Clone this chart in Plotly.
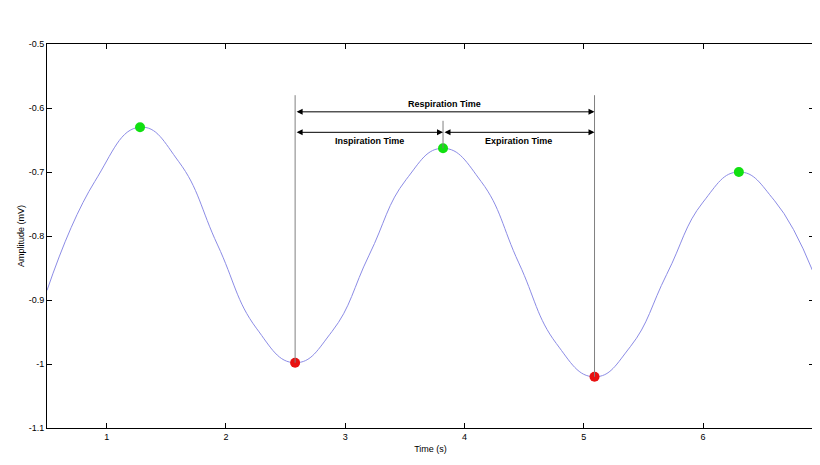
import plotly.graph_objects as go

# signal
t = [0.5, 0.9, 1.28, 1.605, 1.93, 2.255, 2.58, 2.89, 3.2, 3.51, 3.82,
     4.14, 4.455, 4.77, 5.09, 5.39, 5.695, 6.0, 6.3, 6.6, 6.92]
amp = [-0.885, -0.715, -0.63, -0.684, -0.814, -0.944, -0.998, -0.949, -0.83, -0.712, -0.663,
       -0.715, -0.842, -0.968, -1.02, -0.973, -0.86, -0.747, -0.70, -0.745, -0.855]

peak_t = [1.28, 3.82, 6.3]
peak_amp = [-0.63, -0.663, -0.70]
trough_t = [2.58, 5.09]
trough_amp = [-0.998, -1.02]

x_ticks = [1, 2, 3, 4, 5, 6]
y_ticks = [-0.5, -0.6, -0.7, -0.8, -0.9, -1.0, -1.1]
y_labels = ["-0.5", "-0.6", "-0.7", "-0.8", "-0.9", "-1", "-1.1"]

font = dict(family="Liberation Sans, Arial", size=9, color="black")

fig = go.Figure()
fig.add_trace(go.Scatter(x=t, y=amp, mode="lines",
                         line=dict(color="#8c8ce6", width=1, shape="spline", smoothing=1.3)))

# vertical guide lines
guide = dict(color="#808080", width=1)
fig.add_shape(type="line", x0=trough_t[0], x1=trough_t[0], y0=trough_amp[0], y1=-0.58, line=guide)
fig.add_shape(type="line", x0=trough_t[1], x1=trough_t[1], y0=trough_amp[1], y1=-0.58, line=guide)
fig.add_shape(type="line", x0=peak_t[1], x1=peak_t[1], y0=peak_amp[1], y1=-0.62, line=guide)

fig.add_trace(go.Scatter(x=peak_t, y=peak_amp, mode="markers", marker=dict(color="#11e011", size=10)))
fig.add_trace(go.Scatter(x=trough_t, y=trough_amp, mode="markers", marker=dict(color="#e81010", size=10)))


def double_arrow(x0, x1, y):
    fig.add_annotation(x=x1, y=y, ax=x0, ay=y, xref="x", yref="y", axref="x", ayref="y",
                       text="", showarrow=True, arrowhead=2, arrowside="end+start",
                       arrowsize=1.2, arrowwidth=1, arrowcolor="black")


double_arrow(trough_t[0], trough_t[1], -0.606)
double_arrow(trough_t[0], peak_t[1], -0.638)
double_arrow(peak_t[1], trough_t[1], -0.638)

bold = dict(family="Liberation Sans, Arial", size=9, color="black", weight="bold")
fig.add_annotation(x=(trough_t[0] + trough_t[1]) / 2, y=-0.593, text="Respiration Time", showarrow=False, font=bold)
fig.add_annotation(x=(trough_t[0] + peak_t[1]) / 2, y=-0.652, text="Inspiration Time", showarrow=False, font=bold)
fig.add_annotation(x=(peak_t[1] + trough_t[1]) / 2, y=-0.652, text="Expiration Time", showarrow=False, font=bold)

axis = dict(showline=True, mirror="ticks", linecolor="black", linewidth=1, ticks="inside",
            ticklen=5, tickcolor="black", showgrid=False, zeroline=False, tickfont=font)
fig.update_xaxes(range=[0.5, 6.93], tickvals=x_ticks, title=dict(text="Time (s)", font=font, standoff=4), **axis)
fig.update_yaxes(range=[-1.1, -0.5], tickvals=y_ticks, ticktext=y_labels,
                 title=dict(text="Amplitude (mV)", font=font, standoff=2), **axis)
fig.update_layout(width=820, height=465, margin=dict(l=36, r=14, t=36, b=45),
                  paper_bgcolor="white", plot_bgcolor="white", showlegend=False)

fig.write_html("out.html")
